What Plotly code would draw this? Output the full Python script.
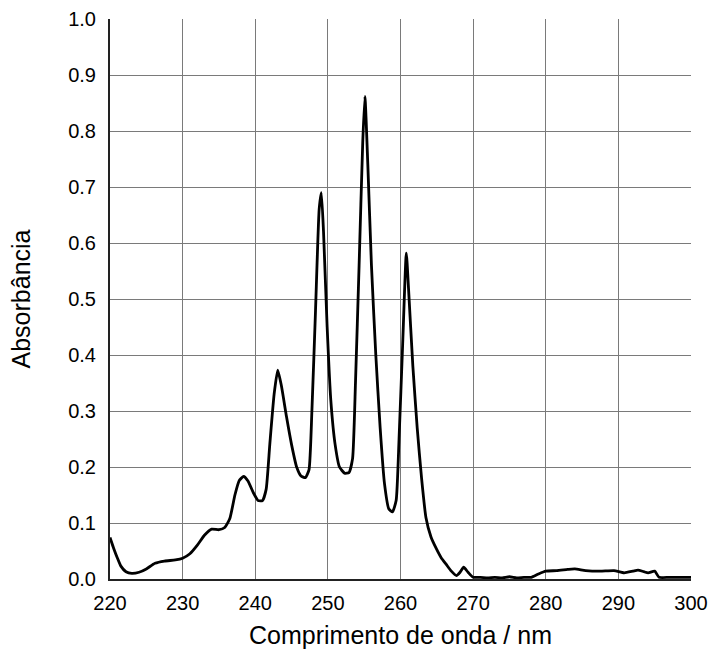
import plotly.graph_objects as go

wavelength = [
    220.0, 220.5, 221.0, 221.5, 222.2, 223.0, 224.0, 225.0, 226.2, 227.5,
    229.0, 230.0, 231.0, 232.0, 233.0, 234.0, 235.0, 235.8, 236.5, 237.2,
    237.8, 238.4, 239.0, 239.7, 240.4, 241.0, 241.5, 242.0, 242.6, 243.1,
    243.6, 244.3, 245.0, 245.7, 246.3, 246.9, 247.4, 247.8, 248.3, 248.8,
    249.1, 249.4, 249.9, 250.4, 251.0, 251.6, 252.3, 252.9, 253.4, 253.8,
    254.3, 254.8, 255.1, 255.5, 256.0, 256.6, 257.2, 257.8, 258.4, 258.9,
    259.4, 259.8, 260.3, 260.8, 261.1, 261.7, 262.3, 262.9, 263.5, 264.2,
    264.9, 265.6, 266.3, 267.0, 267.7, 268.2, 268.7, 269.3, 270.0, 271.0,
    272.0, 273.0, 274.0, 275.0, 276.0, 277.0, 278.0, 279.0, 280.0, 281.5,
    283.0, 284.0, 285.5, 287.5, 289.4, 290.8, 292.0, 292.7, 293.5, 294.1,
    295.0, 295.6, 297.0, 300.0,
]
absorbance = [
    0.074, 0.055, 0.038, 0.023, 0.013, 0.010, 0.012, 0.018, 0.028, 0.032,
    0.034, 0.037, 0.045, 0.060, 0.078, 0.089, 0.088, 0.092, 0.108, 0.150,
    0.176, 0.183, 0.175, 0.155, 0.140, 0.140, 0.160, 0.240, 0.330, 0.373,
    0.345, 0.290, 0.240, 0.200, 0.184, 0.181, 0.195, 0.300, 0.480, 0.660,
    0.690, 0.620, 0.450, 0.320, 0.240, 0.200, 0.189, 0.190, 0.215, 0.350,
    0.560, 0.780, 0.862, 0.740, 0.560, 0.400, 0.270, 0.170, 0.125, 0.120,
    0.140, 0.250, 0.420, 0.582, 0.520, 0.380, 0.270, 0.180, 0.110, 0.075,
    0.055, 0.038, 0.026, 0.014, 0.006, 0.012, 0.021, 0.012, 0.003, 0.003,
    0.002, 0.003, 0.002, 0.004, 0.002, 0.003, 0.003, 0.009, 0.014, 0.015,
    0.017, 0.018, 0.015, 0.014, 0.015, 0.011, 0.014, 0.016, 0.013, 0.011,
    0.014, 0.003, 0.003, 0.003,
]

x_ticks = [220, 230, 240, 250, 260, 270, 280, 290, 300]
y_ticks = [0.0, 0.1, 0.2, 0.3, 0.4, 0.5, 0.6, 0.7, 0.8, 0.9, 1.0]
y_tick_labels = ["0.0", "0.1", "0.2", "0.3", "0.4", "0.5", "0.6", "0.7", "0.8", "0.9", "1.0"]

FONT = "Liberation Sans, Arial, sans-serif"

fig = go.Figure()
fig.add_trace(go.Scatter(
    x=wavelength, y=absorbance, mode="lines",
    line=dict(color="black", width=2.8, shape="spline", smoothing=0.5),
    hoverinfo="skip", showlegend=False,
))

fig.update_layout(
    width=713, height=649,
    margin=dict(l=110, r=22, t=19, b=70),
    paper_bgcolor="white", plot_bgcolor="white",
    font=dict(family=FONT, color="black", size=20),
)
fig.update_xaxes(
    range=[220, 300], tickvals=x_ticks, ticktext=[str(v) for v in x_ticks],
    showgrid=True, gridcolor="#7a7a7a", gridwidth=1.2,
    showline=True, linecolor="#222222", linewidth=2,
    ticks="outside", ticklen=5, tickcolor="rgba(0,0,0,0)",
    tickfont=dict(size=20), zeroline=False, automargin=False,
    title=dict(text="Comprimento de onda / nm", font=dict(size=25), standoff=14),
)
fig.update_yaxes(
    range=[0, 1.0], tickvals=y_ticks, ticktext=y_tick_labels,
    showgrid=True, gridcolor="#7a7a7a", gridwidth=1.2,
    showline=True, linecolor="#222222", linewidth=2,
    ticks="outside", ticklen=8, tickcolor="rgba(0,0,0,0)",
    tickfont=dict(size=20), zeroline=False, automargin=False,
    title=dict(text="Absorbância", font=dict(size=25), standoff=30),
)

fig.write_html("out.html")
